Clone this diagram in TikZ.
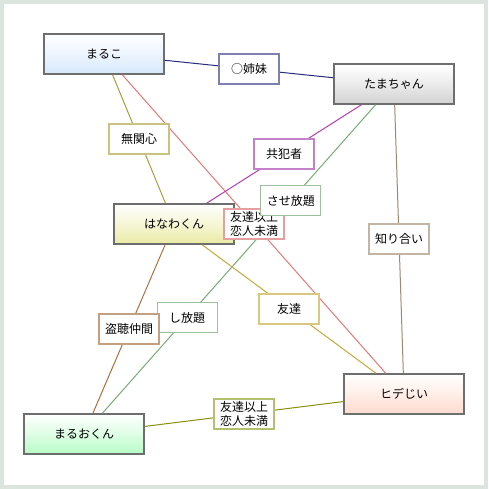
\documentclass[tikz,border=0pt]{standalone}
\usepackage{fontspec}
\setmainfont{Noto Sans CJK JP}
\usetikzlibrary{calc,positioning}

\definecolor{frame}{HTML}{DCE4DE}
\definecolor{edgegray}{HTML}{6E6E6E}
\definecolor{fillMaruko}{HTML}{D6E8FC}
\definecolor{fillTama}{HTML}{D2D2D2}
\definecolor{fillHanawa}{HTML}{EAEAA4}
\definecolor{fillMaruo}{HTML}{B6FCC6}
\definecolor{fillHide}{HTML}{FFDACC}
\definecolor{lineSis}{HTML}{2A2A80}
\definecolor{boxSis}{HTML}{8080B0}
\definecolor{lineMu}{HTML}{A8A040}
\definecolor{boxMu}{HTML}{C8C480}
\definecolor{lineKyo}{HTML}{B040B0}
\definecolor{boxKyo}{HTML}{C480C8}
\definecolor{lineSase}{HTML}{78AC78}
\definecolor{boxSase}{HTML}{9CC29C}
\definecolor{lineKoi}{HTML}{E87878}
\definecolor{boxKoi}{HTML}{E4A0A0}
\definecolor{lineShiri}{HTML}{A08870}
\definecolor{boxShiri}{HTML}{C4B4A4}
\definecolor{lineTomo}{HTML}{C8A838}
\definecolor{boxTomo}{HTML}{D8C880}
\definecolor{lineTou}{HTML}{B07040}
\definecolor{boxTou}{HTML}{C4A080}
\definecolor{lineKoiB}{HTML}{889010}
\definecolor{boxKoiB}{HTML}{B4C070}

\begin{document}
\begin{tikzpicture}
[x=1pt, y=-1pt, line width=1pt,
person/.style={rectangle, draw=edgegray, line width=1.5pt, inner sep=0pt, minimum width=120pt, minimum height=40pt, font=\fontsize{12}{14}\selectfont},
rel/.style={rectangle, draw, fill=white, line width=1.3pt, inner sep=0pt, minimum width=60pt, minimum height=30pt, align=center, font=\fontsize{12}{14}\selectfont}]

\fill[frame] (0,0) rectangle (488,489);
\fill[white] (4,4) rectangle (484,485);
\useasboundingbox (0,0) rectangle (488,489);

\coordinate (cMaruko) at (104,54);
\coordinate (cTama) at (394,84);
\coordinate (cHanawa) at (174,224);
\coordinate (cMaruo) at (84,434);
\coordinate (cHide) at (404,394);

\node[person, top color=white, bottom color=fillMaruko, middle color=fillMaruko!45!white] (maruko) at (cMaruko) {まるこ};
\node[person, top color=white, bottom color=fillTama, middle color=fillTama!45!white] (tama) at (cTama) {たまちゃん};
\node[person, top color=white, bottom color=fillHanawa, middle color=fillHanawa!45!white] (hanawa) at (cHanawa) {はなわくん};
\node[person, top color=white, bottom color=fillMaruo, middle color=fillMaruo!45!white] (maruo) at (cMaruo) {まるおくん};
\node[person, top color=white, bottom color=fillHide, middle color=fillHide!45!white] (hide) at (cHide) {ヒデじい};

\draw[lineSis] (maruko) -- (tama);
\draw[lineMu] (maruko) -- (hanawa);
\draw[lineKoi] (maruko) -- (hide);
\draw[lineKyo] (tama) -- (hanawa);
\draw[lineSase] (tama) -- (maruo);
\draw[lineShiri] (tama) -- (hide);
\draw[lineTomo] (hanawa) -- (hide);
\draw[lineTou] (hanawa) -- (maruo);
\draw[lineKoiB] (maruo) -- (hide);

\node[rel, draw=boxSis] (sis) at ($(cMaruko)!0.5!(cTama)$) {○姉妹};
\node[rel, draw=boxMu] (mu) at ($(cMaruko)!0.5!(cHanawa)$) {無関心};
\node[rel, draw=boxKyo] (kyo) at ($(cTama)!0.5!(cHanawa)$) {共犯者};
\node[rel, draw=boxKoi] (koi) at ($(cMaruko)!0.5!(cHide)$) {友達以上\\恋人未満};
\node[rel, draw=boxSase] (sase) at ($(cTama)!0.333!(cMaruo)$) {させ放題};
\node[rel, draw=boxShiri] (shiri) at ($(cTama)!0.5!(cHide)$) {知り合い};
\node[rel, draw=boxTomo] (tomo) at ($(cHanawa)!0.5!(cHide)$) {友達};
\node[rel, draw=boxSase] (shi) at ($(cTama)!0.667!(cMaruo)$) {し放題};
\node[rel, draw=boxTou] (tou) at ($(cHanawa)!0.5!(cMaruo)$) {盗聴仲間};
\node[rel, draw=boxKoiB] (koib) at ($(cMaruo)!0.5!(cHide)$) {友達以上\\恋人未満};

\end{tikzpicture}
\end{document}
